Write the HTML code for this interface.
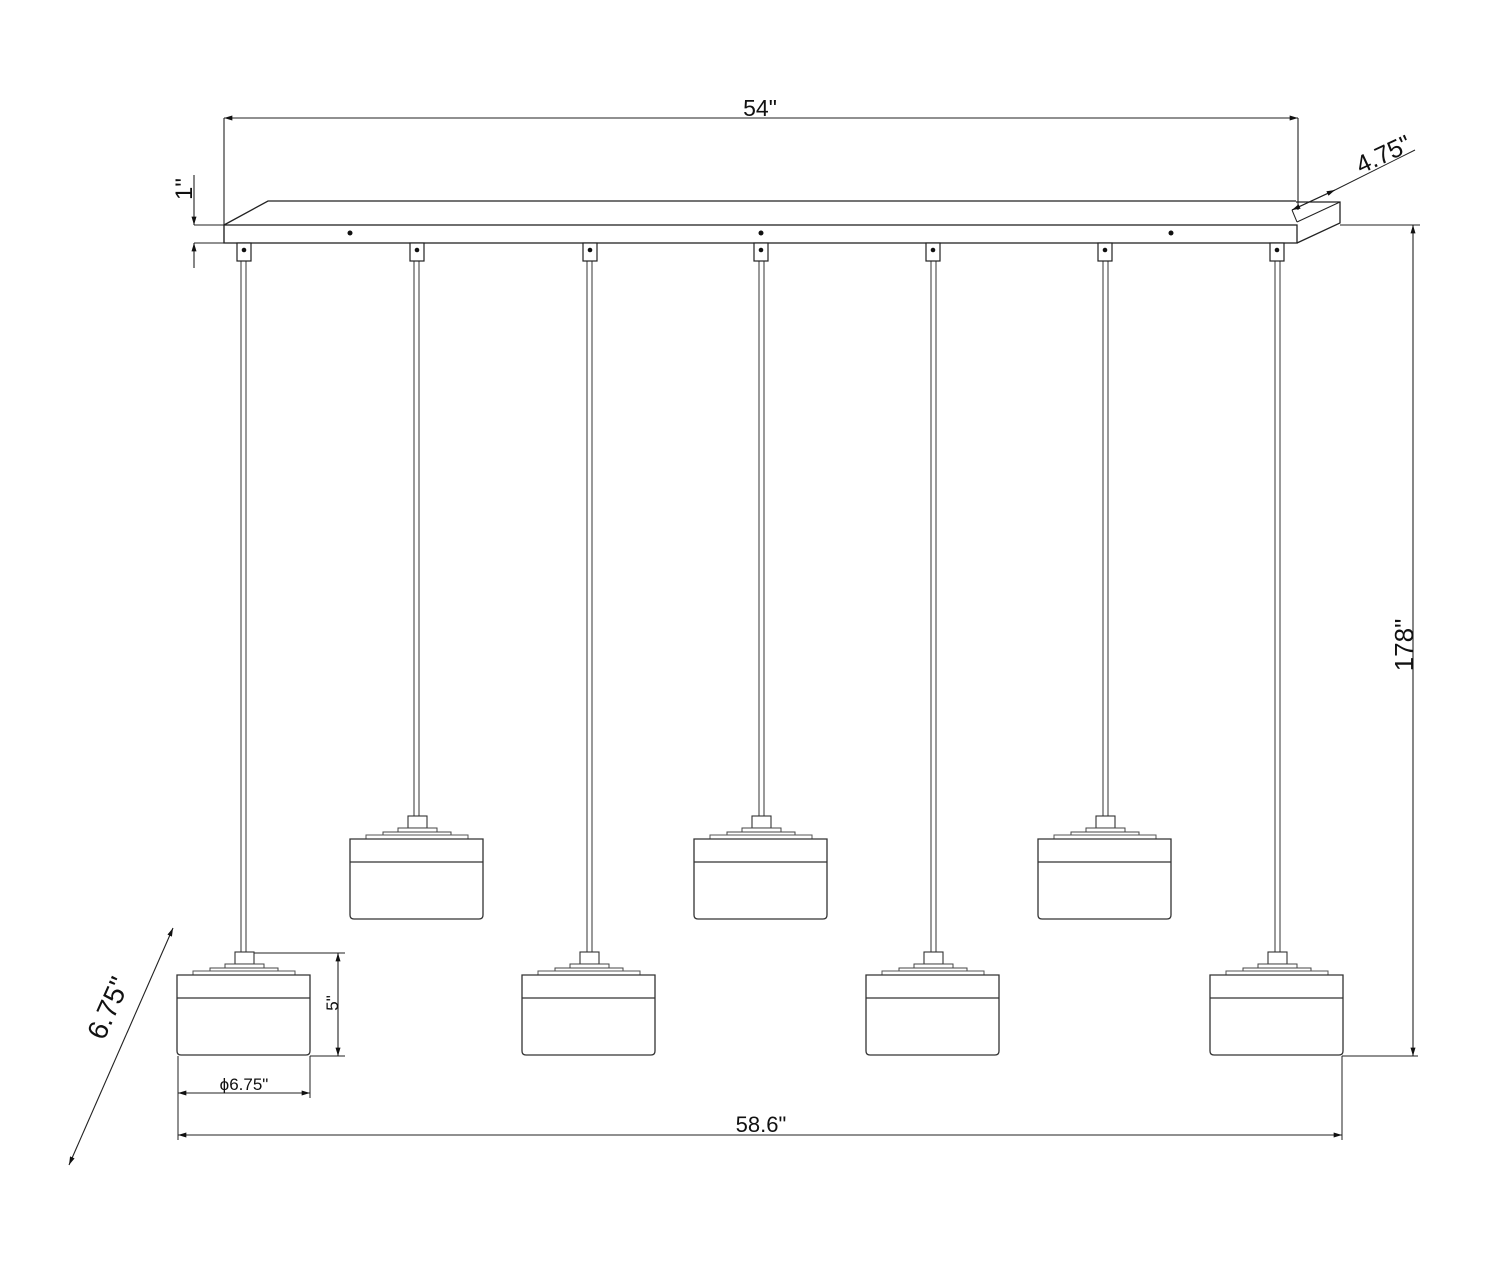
<!DOCTYPE html>
<html><head><style>
html,body{margin:0;padding:0;background:#fff;}
svg{display:block;}
text{font-family:"Liberation Sans","DejaVu Sans",sans-serif;fill:#111;}
</style></head><body>
<svg width="1500" height="1280" viewBox="0 0 1500 1280" xmlns="http://www.w3.org/2000/svg">
<defs>
<marker id="ar" viewBox="0 0 10 6" refX="10" refY="3" markerWidth="9" markerHeight="5" orient="auto-start-reverse" markerUnits="userSpaceOnUse"><path d="M0,0 L10,3 L0,6 z" fill="#111"/></marker>
<g id="br">
<rect x="-7" y="243" width="14" height="18" fill="#fff" stroke="#222" stroke-width="1.2"/>
<circle cx="0" cy="250" r="2.3" fill="#111"/>
</g>
<g id="sh">
<rect x="-9" y="-23" width="19" height="12" fill="#fff" stroke="#333" stroke-width="1.1"/>
<rect x="-19" y="-11" width="39" height="4" fill="#fff" stroke="#444" stroke-width="1"/>
<rect x="-34" y="-7" width="68" height="3" fill="#fff" stroke="#444" stroke-width="1"/>
<rect x="-51" y="-4" width="102" height="4" fill="#fff" stroke="#555" stroke-width="1"/>
<path d="M-67,0 H66 V76 Q66,80 62,80 H-63 Q-67,80 -67,76 Z" fill="#fff" stroke="#333" stroke-width="1.3"/>
<line x1="-67" y1="23" x2="66" y2="23" stroke="#333" stroke-width="1.3"/>
</g>
</defs>

<g stroke="#222" stroke-width="1.3" fill="none">
<path d="M224,225 L268,201 H1296"/>
<rect x="224" y="225" width="1073" height="18" fill="#fff"/>
<path d="M1297,243 L1340,223 V202 H1296"/>
<path d="M1292,210 L1335,190" stroke-width="1"/>
<path d="M1292,210 L1297,222" stroke-width="1"/>
<path d="M1297,222 L1340,202" stroke-width="1"/>
<line x1="224" y1="118" x2="224" y2="243" stroke-width="1.1"/>
<line x1="1298" y1="118" x2="1298" y2="210" stroke-width="1.1"/>
<line x1="194" y1="225" x2="224" y2="225" stroke-width="1"/>
<line x1="194" y1="243" x2="224" y2="243" stroke-width="1"/>
<line x1="1340" y1="225" x2="1420" y2="225" stroke-width="1"/>
<line x1="1335" y1="190" x2="1415" y2="150" stroke-width="1"/>
<line x1="1342" y1="1056" x2="1418" y2="1056" stroke-width="1"/>
<line x1="252" y1="953" x2="345" y2="953" stroke-width="1"/>
<line x1="310" y1="1056" x2="345" y2="1056" stroke-width="1"/>
<line x1="178" y1="1056" x2="178" y2="1140" stroke-width="1"/>
<line x1="310" y1="1056" x2="310" y2="1098" stroke-width="1"/>
<line x1="1342" y1="1056" x2="1342" y2="1140" stroke-width="1"/>
</g>

<g fill="#111"><circle cx="350" cy="233" r="2.5"/><circle cx="761" cy="233" r="2.5"/><circle cx="1171" cy="233" r="2.5"/></g>

<g stroke="#333" stroke-width="1">
<line x1="241" y1="261" x2="241" y2="952"/><line x1="246" y1="261" x2="246" y2="952"/>
<line x1="414" y1="261" x2="414" y2="816"/><line x1="419" y1="261" x2="419" y2="816"/>
<line x1="587" y1="261" x2="587" y2="952"/><line x1="592" y1="261" x2="592" y2="952"/>
<line x1="759" y1="261" x2="759" y2="816"/><line x1="764" y1="261" x2="764" y2="816"/>
<line x1="931" y1="261" x2="931" y2="952"/><line x1="936" y1="261" x2="936" y2="952"/>
<line x1="1103" y1="261" x2="1103" y2="816"/><line x1="1108" y1="261" x2="1108" y2="816"/>
<line x1="1275" y1="261" x2="1275" y2="952"/><line x1="1280" y1="261" x2="1280" y2="952"/>
</g>
<use href="#br" x="244"/><use href="#br" x="417"/><use href="#br" x="590"/><use href="#br" x="761"/><use href="#br" x="933"/><use href="#br" x="1105"/><use href="#br" x="1277"/>

<use href="#sh" x="244" y="975"/>
<use href="#sh" x="417" y="839"/>
<use href="#sh" x="589" y="975"/>
<use href="#sh" x="761" y="839"/>
<use href="#sh" x="933" y="975"/>
<use href="#sh" x="1105" y="839"/>
<use href="#sh" x="1277" y="975"/>

<g stroke="#222" stroke-width="1.1">
<line x1="224" y1="118" x2="1298" y2="118" marker-start="url(#ar)" marker-end="url(#ar)"/>
<line x1="1413" y1="225" x2="1413" y2="1056" marker-start="url(#ar)" marker-end="url(#ar)"/>
<line x1="178" y1="1135" x2="1342" y2="1135" marker-start="url(#ar)" marker-end="url(#ar)"/>
<line x1="178" y1="1093" x2="310" y2="1093" marker-start="url(#ar)" marker-end="url(#ar)"/>
<line x1="338" y1="953" x2="338" y2="1056" marker-start="url(#ar)" marker-end="url(#ar)"/>
<line x1="173" y1="928" x2="69" y2="1165" marker-start="url(#ar)" marker-end="url(#ar)"/>
<line x1="1292" y1="210" x2="1335" y2="190" marker-start="url(#ar)" marker-end="url(#ar)"/>
<line x1="194" y1="175" x2="194" y2="225" marker-end="url(#ar)"/>
<line x1="194" y1="268" x2="194" y2="243" marker-end="url(#ar)"/>
</g>

<text x="760" y="116" font-size="23" text-anchor="middle">54"</text>
<text x="761" y="1132" font-size="22" text-anchor="middle">58.6"</text>
<text x="244" y="1090" font-size="17" text-anchor="middle">ϕ6.75"</text>
<text transform="translate(1413,645) rotate(-90)" font-size="26" text-anchor="middle">178"</text>
<text transform="translate(338,1003) rotate(-90)" font-size="17" text-anchor="middle">5"</text>
<text transform="translate(192,189) rotate(-90)" font-size="24" text-anchor="middle">1"</text>
<text transform="translate(117,1012) rotate(-66)" font-size="28" text-anchor="middle">6.75"</text>
<text transform="translate(1387,162) rotate(-25)" font-size="25" text-anchor="middle">4.75"</text>
</svg>
</body></html>
